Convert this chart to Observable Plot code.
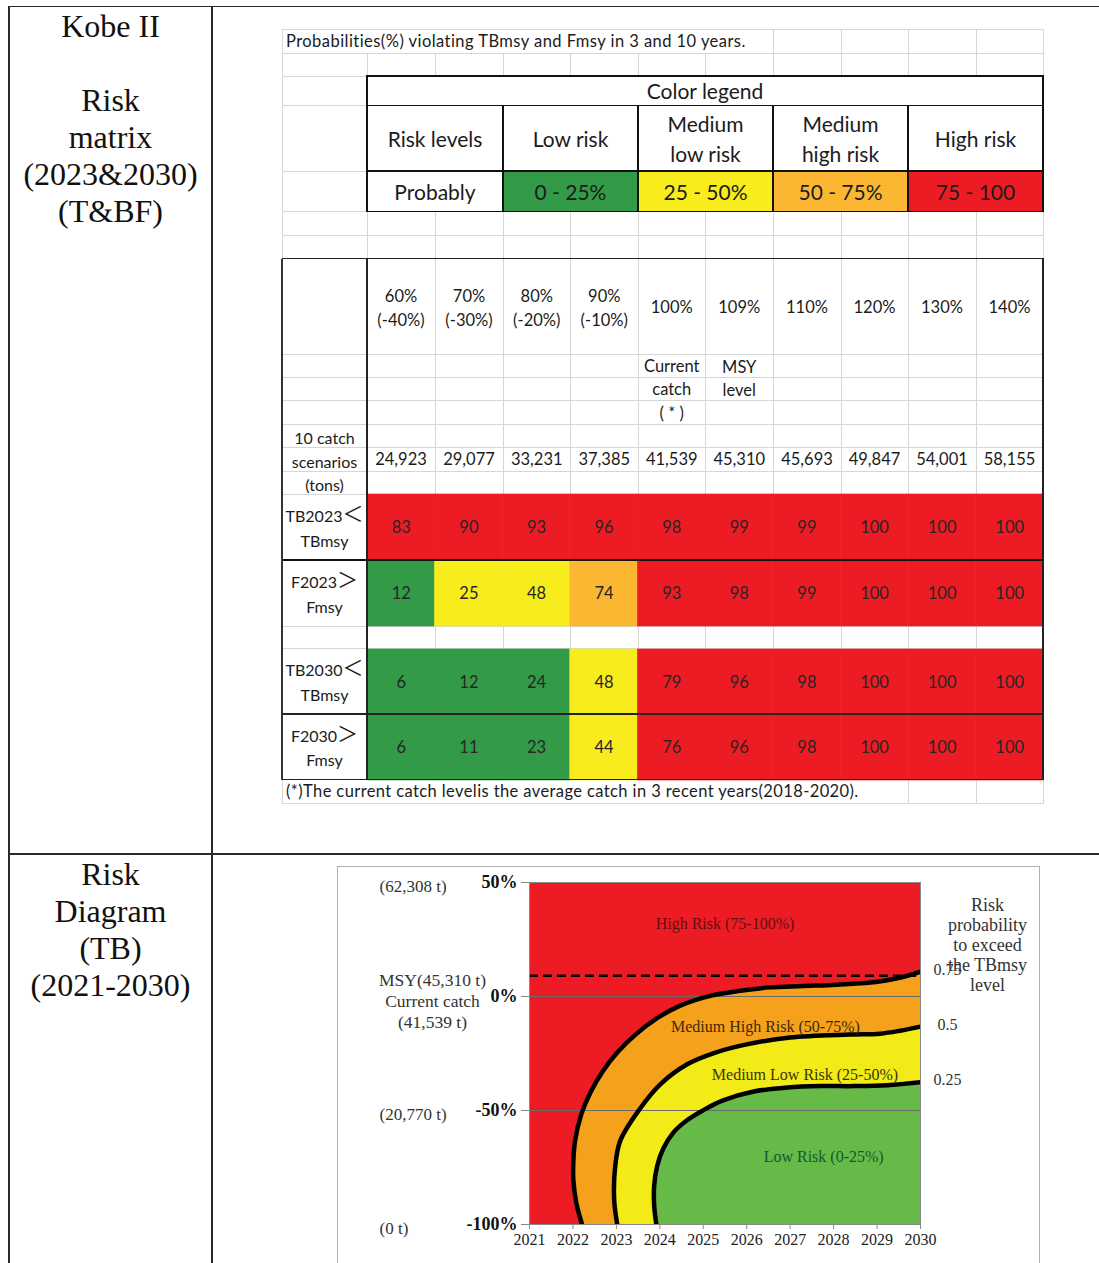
<!DOCTYPE html>
<html>
<head>
<meta charset="utf-8">
<script src="https://cdn.jsdelivr.net/npm/d3@7"></script>
<script src="https://cdn.jsdelivr.net/npm/@observablehq/plot@0.6"></script>
<style>
  html, body { margin: 0; padding: 0; background: #fff; }
  #page { position: relative; width: 1099px; height: 1263px; overflow: hidden; background: #fff; }
  #page div { box-sizing: border-box; }
  .t { position: absolute; white-space: pre; color: #1b1b1b; }
  .xl { font-family: Lato, "Noto Sans CJK TC", "Noto Sans", sans-serif; }
  .serif { font-family: "Liberation Serif", "Times New Roman", serif; color: #111; }
</style>
</head>
<body>
<div id="page"></div>
<script>
// ---------- data: catch scenarios and violation probabilities ----------
const scenarios = ["60%", "70%", "80%", "90%", "100%", "109%", "110%", "120%", "130%", "140%"];
const scenarioChange = ["(-40%)", "(-30%)", "(-20%)", "(-10%)", "", "", "", "", "", ""];
const scenarioNote = ["", "", "", "", "Current\ncatch\n( * )", "MSY\nlevel", "", "", "", ""];
const catchTons = ["24,923", "29,077", "33,231", "37,385", "41,539", "45,310", "45,693", "49,847", "54,001", "58,155"];

const tb2023 = [83, 90, 93, 96, 98, 99, 99, 100, 100, 100];
const f2023 = [12, 25, 48, 74, 93, 98, 99, 100, 100, 100];
const tb2030 = [6, 12, 24, 48, 79, 96, 98, 100, 100, 100];
const f2030 = [6, 11, 23, 44, 76, 96, 98, 100, 100, 100];

const rowLabels2023 = [["TB2023", "\uFF1C", "TBmsy"], ["F2023", "\uFF1E", "Fmsy"]];
const rowLabels2030 = [["TB2030", "\uFF1C", "TBmsy"], ["F2030", "\uFF1E", "Fmsy"]];

// colour legend
const riskLevelNames = ["Low risk", "Medium\nlow risk", "Medium\nhigh risk", "High risk"];
const riskRanges = ["0 - 25%", "25 - 50%", "50 - 75%", "75 - 100"];
const riskBreaks = [25, 50, 75];
const riskColors = ["#339a47", "#f8ec1d", "#fbb732", "#ed1c24"];

// ---------- data: risk diagram (TB, 2021-2030) ----------
const years = [2021, 2022, 2023, 2024, 2025, 2026, 2027, 2028, 2029, 2030];
const catchChangeTicks = [50, 0, -50, -100];
const catchAtTicks = ["(62,308 t)", "(20,770 t)", "(0 t)"];
const catchAtTickLevels = [50, -50, -100];
const referenceCatchText = "MSY(45,310 t)\nCurrent catch\n(41,539 t)";
const msyChange = 9.08; // 45,310 t relative to 41,539 t

// probability contours: [year, % change of catch]
const contour75 = [
  [2022.21, -100], [2022.08, -90.8], [2022.01, -80.7], [2022.01, -72.0], [2022.05, -63.2],
  [2022.19, -51.8], [2022.40, -42.2], [2022.68, -33.0], [2023.02, -24.6], [2023.44, -16.7],
  [2023.92, -9.7], [2024.47, -4.0], [2025.16, 0.3], [2025.85, 2.5], [2026.54, 4.0],
  [2027.30, 4.6], [2028.08, 5.2], [2028.85, 6.1], [2029.38, 7.7], [2029.70, 9.1], [2030, 10.9]
];
const contour50 = [
  [2023.02, -100], [2022.95, -89.5], [2022.97, -75.0], [2023.09, -63.2], [2023.55, -49.0],
  [2024.01, -38.5], [2024.63, -29.7], [2025.23, -24.9], [2025.97, -21.1], [2027.0, -18.0],
  [2028.38, -16.7], [2029.07, -16.3], [2029.53, -15.0], [2030, -13.2]
];
const contour25 = [
  [2023.92, -100], [2023.87, -91.7], [2023.87, -82.9], [2023.94, -74.2], [2024.08, -66.7],
  [2024.31, -59.7], [2024.61, -54.5], [2024.98, -50.1], [2025.44, -45.7], [2026.16, -41.7],
  [2026.94, -39.9], [2027.70, -39.3], [2028.46, -39.3], [2029.24, -38.9], [2030, -37.6]
];
const contourLevels = ["0.75", "0.5", "0.25"];
const zoneNames = ["High Risk (75-100%)", "Medium High Risk (50-75%)", "Medium Low Risk (25-50%)", "Low Risk (0-25%)"];
const zoneAnchorYear = [2025.5, 2026.43, 2027.34, 2027.77];
const zoneAnchorChange = [31.7, -13.5, -34.3, -70.2];
const zoneColors = ["#ed1c24", "#f6a11b", "#f2eb17", "#67ba47"];
const zoneTextColors = ["#5e1010", "#3a2a05", "#3a3505", "#0d5b2c"];

// ---------- page helpers ----------
const page = document.getElementById("page");
function rect(x, y, w, h, css = "") {
  const d = document.createElement("div");
  d.style.cssText = `position:absolute;left:${x}px;top:${y}px;width:${w}px;height:${h}px;${css}`;
  page.append(d);
  return d;
}
const hline = (x1, x2, y, color = "#d6d6d6", w = 1) => rect(x1, y - w / 2, x2 - x1, w, `background:${color}`);
const vline = (x, y1, y2, color = "#d6d6d6", w = 1) => rect(x - w / 2, y1, w, y2 - y1, `background:${color}`);
function label(str, x, y, {size = 15, cls = "xl", anchor = "middle", lh = 1.2, color, spacing, valign = "-50%"} = {}) {
  const d = document.createElement("div");
  d.className = "t " + cls;
  d.textContent = str;
  const tx = anchor === "middle" ? "-50%" : anchor === "end" ? "-100%" : "0";
  Object.assign(d.style, {
    left: x + "px", top: y + "px", fontSize: size + "px", lineHeight: lh,
    textAlign: anchor === "start" ? "left" : "center",
    transform: `translate(${tx},${valign})`
  });
  if (color) d.style.color = color;
  if (spacing) d.style.letterSpacing = spacing + "px";
  page.append(d);
  return d;
}
function place(svg, x, y) {
  Object.assign(svg.style, {position: "absolute", left: x + "px", top: y + "px", overflow: "visible"});
  page.append(svg);
}

// ---------- outer document table ----------
const ink = "#2a2a2a";
hline(8, 1099, 6.5, ink, 1.5);
hline(8, 1099, 854, ink, 1.5);
vline(9, 6, 1263, ink, 1.5);
vline(212, 6, 1263, ink, 1.5);
label("Kobe II\n\nRisk\nmatrix\n(2023&2030)\n(T&BF)", 110.5, 7.7, {size: 32, cls: "serif", lh: "37px", valign: "0"});
label("Risk\nDiagram\n(TB)\n(2021-2030)", 110.5, 855.7, {size: 32, cls: "serif", lh: "37px", valign: "0"});

// ---------- spreadsheet grid ----------
const cols = [282, 367, 435, 503, 570.5, 638, 705.5, 773, 841, 908, 976, 1043];
const rows = [29, 53.3, 76, 105.7, 171, 211.7, 235.5, 258.5, 354.5, 377.7, 400.7, 424, 447.3, 471, 494, 560, 626, 648.5, 714, 779.5, 803.3];
rows.forEach(y => hline(cols[0], cols[cols.length - 1] + 0.5, y));
cols.forEach(x => vline(x, rows[0], rows[rows.length - 1]));

// title row (text runs over the cells)
rect(282.5, 29.6, 490, 23.2, "background:#fff");
label("Probabilities(%) violating TBmsy and Fmsy in 3 and 10 years.", 286, 41.5, {size: 16.5, anchor: "start", spacing: 0.45});

// colour legend box
rect(367, 76, 676, 135.7, "background:#fff");
const legendCols = [367, 503, 638, 773, 908, 1043];
riskColors.forEach((c, i) => rect(legendCols[i + 1], 171, legendCols[i + 2] - legendCols[i + 1], 40.7, `background:${c}`));
hline(366, 1044, 76, "#111", 1.5);
hline(366, 1044, 105.7, "#111", 1.2);
hline(366, 1044, 171, "#111", 1.2);
hline(366, 1044, 211.7, "#111", 1.5);
vline(367, 76, 211.7, "#111", 1.5);
vline(1043, 76, 211.7, "#111", 1.5);
legendCols.slice(1, -1).forEach(x => vline(x, 105.7, 211.7, "#111", 1.2));
label("Color legend", 705, 91, {size: 21});
label("Risk levels", 435, 138.5, {size: 21});
label("Probably", 435, 191.5, {size: 21});
riskLevelNames.forEach((t, i) => label(t, (legendCols[i + 1] + legendCols[i + 2]) / 2, 138.5, {size: 21, lh: "30px"}));
riskRanges.forEach((t, i) => label(t, (legendCols[i + 1] + legendCols[i + 2]) / 2, 191.5, {size: 21}));

// scenario header
scenarios.forEach((s, i) => {
  const cx = (cols[i + 1] + cols[i + 2]) / 2;
  if (scenarioChange[i]) label(s + "\n" + scenarioChange[i], cx, 308, {size: 16.5, lh: "23.5px"});
  else label(s, cx, 308, {size: 16.5});
  if (scenarioNote[i]) label(scenarioNote[i], cx, i === 4 ? 390 : 379, {size: 16.5, lh: "23.3px"});
  label(catchTons[i], cx, 460, {size: 16.5});
});
label("10 catch\nscenarios\n(tons)", 324.5, 461, {size: 16, lh: "23.5px"});

// row labels (the comparison sign is set a little larger)
function rowLabel([name, sign, ref], cy) {
  const d = label("", 324.5, cy, {size: 16, lh: "24.5px"});
  d.innerHTML = `${name}<span style="font-size:21px;line-height:0;position:relative;top:-1px">${sign}</span>\n${ref}`;
}
rowLabels2023.forEach((t, i) => rowLabel(t, 528 + i * 66));
rowLabels2030.forEach((t, i) => rowLabel(t, 682 + i * 65.5));

// footnote row
rect(282.5, 780.2, 625, 22.6, "background:#fff");
label("(*)The current catch levelis the average catch in 3 recent years(2018-2020).", 286, 792, {size: 16.5, anchor: "start", spacing: 0.4});

// ---------- probability matrix cells ----------
function probabilityBlock(blockRows, height) {
  const cells = blockRows.flatMap(({key, values}) =>
    values.map((v, i) => ({scenario: scenarios[i], key, v})));
  return Plot.plot({
    width: 676, height, margin: 0,
    style: {background: "transparent", fontFamily: "Lato, sans-serif", fontSize: "16px"},
    x: {type: "band", domain: scenarios, padding: 0, round: false, axis: null},
    y: {type: "band", domain: blockRows.map(r => r.key), padding: 0, round: false, axis: null},
    color: {type: "threshold", domain: riskBreaks, range: riskColors},
    marks: [
      Plot.cell(cells, {x: "scenario", y: "key", fill: "v", stroke: "v", strokeWidth: 0.6, inset: 0}),
      Plot.text(cells, {x: "scenario", y: "key", text: "v", fill: "#262626", fontSize: 16.5})
    ]
  });
}
place(probabilityBlock([{key: "TB", values: tb2023}, {key: "F", values: f2023}], 132), 367, 494);
place(probabilityBlock([{key: "TB", values: tb2030}, {key: "F", values: f2030}], 131), 367, 648.5);

// matrix borders
hline(281.5, 1044, 258.5, "#222", 1.5);
hline(281.5, 1044, 560, "#111", 2.2);
hline(281.5, 1044, 714, "#222", 1.2);
hline(281.5, 1044, 779.5, "#222", 1.5);
vline(282, 258.5, 780, "#333", 1.5);
vline(367, 258.5, 780, "#222", 1.5);
vline(1043, 258.5, 780, "#222", 1.5);

// ---------- risk diagram ----------
rect(336.5, 865.5, 703, 420, "border:1px solid #b0b0b0");

const toPoints = c => c.map(([x, y]) => ({x, y}));
const contours = [contour75, contour50, contour25].map((c, i) => ({level: contourLevels[i], points: toPoints(c)}));
const xEnd = years[years.length - 1];
const zones = zoneNames.map((name, i) => ({name, x: zoneAnchorYear[i], y: zoneAnchorChange[i], color: zoneTextColors[i]}));
const serif = "'Liberation Serif', 'Times New Roman', serif";

const diagram = Plot.plot({
  width: 702, height: 397,
  marginLeft: 192, marginRight: 119, marginTop: 16, marginBottom: 39,
  style: {background: "transparent", fontFamily: serif, fontSize: "16px", color: "#222"},
  x: {domain: [years[0], xEnd]},
  y: {domain: [-100, 50]},
  marks: [
    Plot.frame({fill: zoneColors[0], stroke: null}),
    ...contours.map((c, i) => Plot.areaX(c.points, {
      x1: "x", x2: () => xEnd, y: "y", fill: zoneColors[i + 1], curve: "catmull-rom"
    })),
    Plot.ruleY([0, -50], {stroke: "#6a6a6a", strokeWidth: 1}),
    Plot.ruleY([msyChange], {stroke: "#000", strokeWidth: 2.6, strokeDasharray: "9 5"}),
    ...contours.map(c => Plot.line(c.points, {
      x: "x", y: "y", stroke: "#000", strokeWidth: 4.5, curve: "catmull-rom", clip: true
    })),
    Plot.frame({stroke: "#8a8a8a"}),
    Plot.axisX({ticks: years, tickFormat: d => String(d), tickSize: 5, tickPadding: 4,
      stroke: "#8a8a8a", fill: "#222", fontSize: 16, label: null}),
    Plot.axisY({ticks: catchChangeTicks, tickFormat: d => `${d}%`, tickSize: 8, tickPadding: 4,
      stroke: "#8a8a8a", fill: "#111", fontSize: 18, fontWeight: "bold", label: null}),
    // catch in tonnes at the tick levels
    Plot.text(catchAtTickLevels, {y: d => d, text: catchAtTicks, frameAnchor: "left",
      dx: -150, dy: 4, textAnchor: "start", fontSize: 17, fill: "#333"}),
    Plot.text([0], {y: d => d, text: [referenceCatchText], frameAnchor: "left",
      dx: -97, dy: 4, textAnchor: "middle", lineHeight: 1.2, fontSize: 17.5, fill: "#333"}),
    // zone names
    Plot.text(zones, {x: "x", y: "y", text: "name", fill: "color", fontSize: 16}),
    // contour probability levels at the right edge
    Plot.text(contours, {x: d => d.points[d.points.length - 1].x, y: d => d.points[d.points.length - 1].y,
      text: "level", dx: 27, dy: -2, textAnchor: "middle", fontSize: 16, fill: "#333"}),
    Plot.text(["Risk\nprobability\nto exceed\nthe TBmsy\nlevel"], {frameAnchor: "top-right",
      dx: 67, dy: 62, textAnchor: "middle", lineAnchor: "middle", lineHeight: 1.12, fontSize: 18, fill: "#333"})
  ]
});
place(diagram, 337, 866);
</script>
</body>
</html>
